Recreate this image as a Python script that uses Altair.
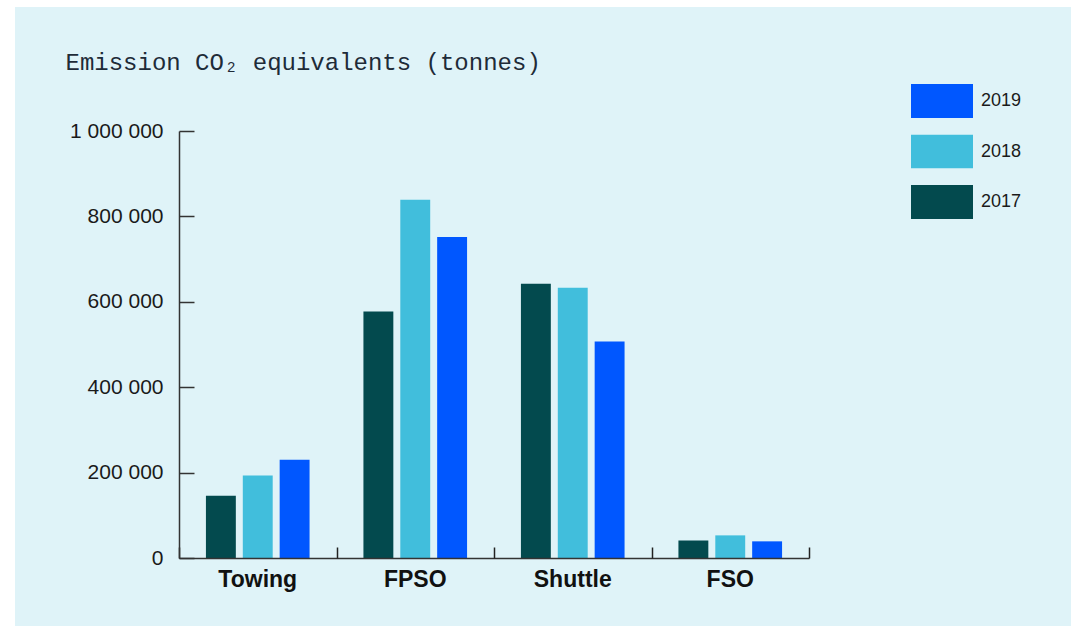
import altair as alt
import pandas as pd

# Emissions by vessel segment and year (tonnes CO2e)
categories = ["Towing", "FPSO", "Shuttle", "FSO"]
years = ["2017", "2018", "2019"]
v2017 = [146000, 577000, 642000, 41000]
v2018 = [193000, 839000, 633000, 53000]
v2019 = [230000, 752000, 507000, 39000]

year_colors = {"2019": "#0057ff", "2018": "#41bedc", "2017": "#034a4e"}
BG = "#dff3f8"
INK = "#1a1a1a"

rows = []
for yr, vals in zip(years, [v2017, v2018, v2019]):
    for cat, v in zip(categories, vals):
        rows.append({"segment": cat, "year": yr, "tonnes": v})
df = pd.DataFrame(rows)

W, H = 630, 427
PAD = {"left": 179, "top": 131, "right": 1071 - 179 - W, "bottom": 626 - 131 - H}

y_scale = alt.Scale(domain=[0, 1000000])
tick_values = [0, 200000, 400000, 600000, 800000, 1000000]

# light panel behind everything
panel = alt.Chart(pd.DataFrame({"p": [0]})).mark_rect(color=BG).encode(
    x=alt.value(15 - PAD["left"]),
    x2=alt.value(1071 - PAD["left"]),
    y=alt.value(7 - PAD["top"]),
    y2=alt.value(626 - PAD["top"]),
)

bars = alt.Chart(df).mark_bar().encode(
    x=alt.X(
        "segment:N",
        sort=categories,
        scale=alt.Scale(paddingInner=0.342, paddingOuter=0.171),
        axis=alt.Axis(
            orient="bottom", title=None, ticks=False, labelAngle=0,
            labelFont="Liberation Sans", labelFontSize=23, labelFontWeight="bold",
            labelColor="#111111", labelPadding=10, labelBaseline="top",
            domainColor="#333333", domainWidth=1.5, zindex=1,
        ),
    ),
    xOffset=alt.XOffset(
        "year:N", sort=years, scale=alt.Scale(paddingInner=0.189, paddingOuter=0)
    ),
    y=alt.Y(
        "tonnes:Q",
        scale=y_scale,
        axis=alt.Axis(
            orient="left", values=tick_values, ticks=False, grid=False,
            labelExpr="replace(format(datum.value, ','), regexp(',', 'g'), ' ')",
            labelFont="Liberation Sans", labelFontSize=21, labelColor=INK,
            labelPadding=16, labelBaseline="middle",
            domainColor="#333333", domainWidth=1.5,
            title="Emission CO\u2082 equivalents (tonnes)",
            titleFont="Liberation Mono", titleFontSize=24, titleFontWeight="normal",
            titleColor="#1e2b38", titleAngle=0, titleAlign="left",
            titleBaseline="alphabetic", titleX=65 - PAD["left"], titleY=69 - PAD["top"],
            zindex=1,
        ),
    ),
    color=alt.Color(
        "year:N",
        scale=alt.Scale(domain=["2019", "2018", "2017"],
                        range=[year_colors[y] for y in ["2019", "2018", "2017"]]),
        legend=alt.Legend(
            orient="none", legendX=911 - PAD["left"], legendY=84 - PAD["top"],
            title=None, padding=0,
            symbolType="M-1,-0.548H1V0.548H-1Z", symbolSize=3844,
            symbolStrokeWidth=0, symbolOpacity=1,
            labelFont="Liberation Sans", labelFontSize=18, labelColor=INK,
            labelOffset=8, clipHeight=34, rowPadding=16.5,
        ),
    ),
)

# inward-pointing ticks: category boundaries along the baseline, values on the left
ticks = alt.Chart(df).mark_bar(opacity=0).encode(
    x=alt.X(
        "segment:N", sort=categories,
        scale=alt.Scale(paddingInner=0, paddingOuter=0),
        axis=alt.Axis(
            orient="top", offset=-H, title=None, labels=False, domain=False,
            tickBand="extent", tickSize=11, tickColor="#222222", tickWidth=1.5,
            zindex=1,
        ),
    ),
    y=alt.Y(
        "tonnes:Q", scale=y_scale,
        axis=alt.Axis(
            orient="right", offset=-W, title=None, labels=False, domain=False,
            values=tick_values, grid=False, tickSize=15, tickColor="#333333",
            tickWidth=1.5, zindex=1,
        ),
    ),
)

chart = (
    alt.layer(panel, bars, ticks)
    .resolve_scale(x="independent")
    .resolve_axis(x="independent", y="independent")
    .properties(
        width=W, height=H, padding=PAD, background="white",
        autosize=alt.AutoSizeParams(type="none"),
    )
    .configure_view(stroke=None)
)

chart.save("out.html", embed_options={"renderer": "svg", "actions": False})
